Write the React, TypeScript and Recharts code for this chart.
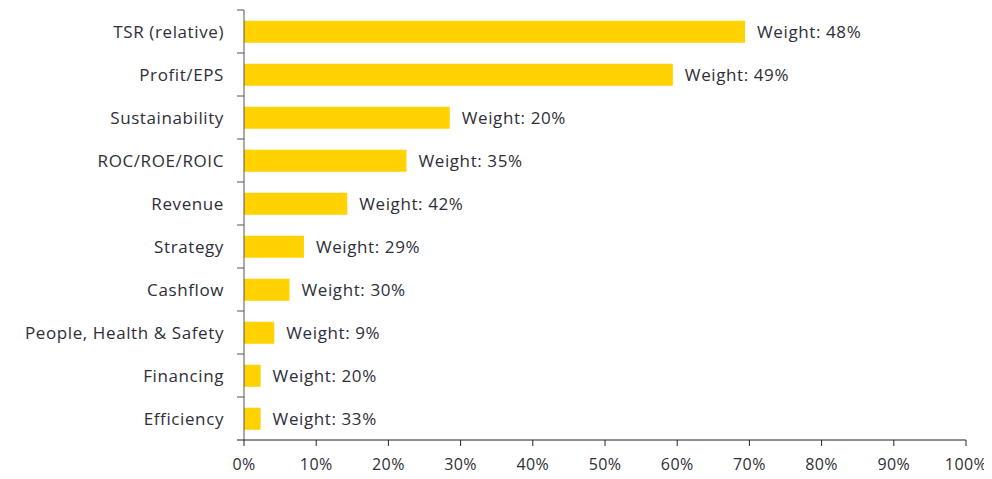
import { Bar, BarChart, XAxis, YAxis, LabelList } from "recharts";

const categories = [
  "TSR (relative)",
  "Profit/EPS",
  "Sustainability",
  "ROC/ROE/ROIC",
  "Revenue",
  "Strategy",
  "Cashflow",
  "People, Health & Safety",
  "Financing",
  "Efficiency",
];
const prevalence = [69.4, 59.4, 28.5, 22.5, 14.3, 8.3, 6.3, 4.2, 2.3, 2.3];
const weights = [48, 49, 20, 35, 42, 29, 30, 9, 20, 33];
const xTicks = [0, 10, 20, 30, 40, 50, 60, 70, 80, 90, 100];

const data = categories.map((name, i) => ({
  name,
  value: prevalence[i],
  weight: weights[i],
}));

const FONT = "'Open Sans', sans-serif";
const TEXT = "#2e2e38";
const Y_TICK_SIZE = 10;
const Y_TICK_MARGIN = 10;
const EDGE_TICK = 7;

// category label + a small tick at the band edges (between categories)
const CategoryTick = (props: any) => {
  const { x, y, payload, index, visibleTicksCount } = props;
  const axisX = x + Y_TICK_SIZE + Y_TICK_MARGIN;
  const half = payload.offset || 0;
  const last = index === visibleTicksCount - 1;
  return (
    <g>
      <text
        x={x}
        y={y}
        dy="0.355em"
        textAnchor="end"
        fill={TEXT}
        fontSize={17}
        letterSpacing={0.6}
        fontFamily={FONT}
      >
        {payload.value}
      </text>
      <line x1={axisX - EDGE_TICK} x2={axisX} y1={y - half} y2={y - half} stroke="#555" />
      {last && (
        <line x1={axisX - EDGE_TICK} x2={axisX} y1={y + half} y2={y + half} stroke="#222" />
      )}
    </g>
  );
};

export default function App() {
  return (
    <BarChart
      width={984}
      height={471}
      data={data}
      layout="vertical"
      margin={{ top: 2, right: 26, left: 0, bottom: 5 }}
      barCategoryGap="25%"
      style={{ fontFamily: FONT }}
    >
      <YAxis
        type="category"
        dataKey="name"
        width={236}
        axisLine={{ stroke: "#555" }}
        tickLine={false}
        tickSize={Y_TICK_SIZE}
        tickMargin={Y_TICK_MARGIN}
        tick={<CategoryTick />}
        interval={0}
      />
      <XAxis
        type="number"
        domain={[0, 100]}
        ticks={xTicks}
        tickFormatter={(v) => `${v}%`}
        axisLine={{ stroke: "#222" }}
        tickLine={{ stroke: "#222" }}
        tickSize={6}
        tickMargin={13}
        height={34}
        tick={{ fill: TEXT, fontSize: 16, letterSpacing: 0.4 }}
      />
      <Bar dataKey="value" fill="#FFD200" isAnimationActive={false}>
        <LabelList
          dataKey="weight"
          position="right"
          offset={12}
          formatter={(v: number) => `Weight: ${v}%`}
          style={{ fill: TEXT, fontSize: 17, letterSpacing: 0.6, fontFamily: FONT }}
        />
      </Bar>
    </BarChart>
  );
}
